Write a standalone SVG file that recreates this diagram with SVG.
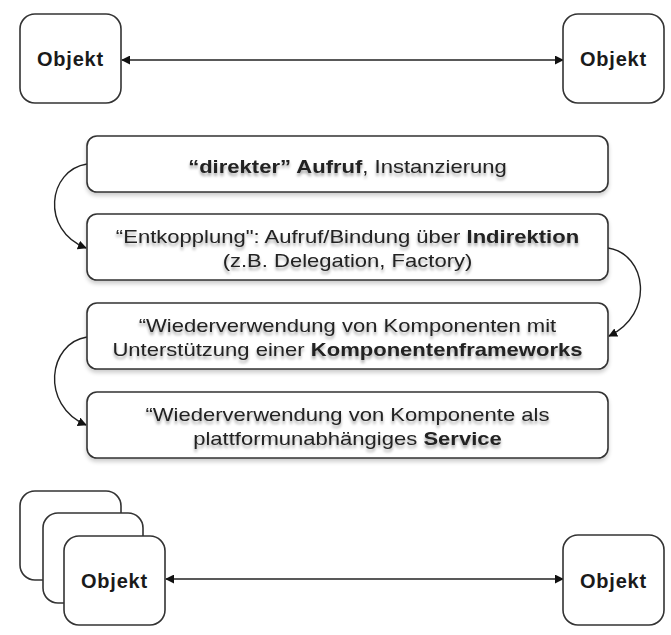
<svg xmlns="http://www.w3.org/2000/svg" width="671" height="635" viewBox="0 0 671 635">
<defs>
<style>
.obj{fill:#fff;stroke:#333;stroke-width:1.6}
.box{fill:#fff;stroke:#333;stroke-width:1.6}
.ot{font-family:"Liberation Sans",Arial,sans-serif;font-weight:bold;font-size:20px;fill:#1a1a1a;text-anchor:middle;letter-spacing:0.8px}
.bt{font-family:"Liberation Sans",Arial,sans-serif;font-size:19px;fill:#222;text-anchor:middle}
.b{font-weight:bold}
.con{fill:none;stroke:#222;stroke-width:1.4}
</style>
<marker id="ah" viewBox="0 0 10 10" refX="9" refY="5" markerWidth="9" markerHeight="9" markerUnits="userSpaceOnUse" orient="auto-start-reverse">
<path d="M0,0 L10,5 L0,10 z" fill="#111"/>
</marker>
<filter id="ts" x="-10%" y="-30%" width="120%" height="180%">
<feGaussianBlur in="SourceAlpha" stdDeviation="1.6"/>
<feOffset dy="3" result="b"/>
<feComponentTransfer in="b" result="s"><feFuncA type="linear" slope="0.35"/></feComponentTransfer>
<feMerge><feMergeNode in="s"/><feMergeNode in="SourceGraphic"/></feMerge>
</filter>
<filter id="bs" x="-5%" y="-20%" width="110%" height="150%">
<feGaussianBlur in="SourceAlpha" stdDeviation="2"/>
<feOffset dy="3" result="b"/>
<feComponentTransfer in="b" result="s"><feFuncA type="linear" slope="0.2"/></feComponentTransfer>
<feMerge><feMergeNode in="s"/><feMergeNode in="SourceGraphic"/></feMerge>
</filter>
</defs>
<rect width="671" height="635" fill="#fff"/>

<g id="connectors">
<line class="con" x1="122" y1="60" x2="563" y2="60" marker-start="url(#ah)" marker-end="url(#ah)"/>
<path class="con" d="M87,164 C48,170 40,230 86,248" marker-end="url(#ah)"/>
<path class="con" d="M608,248 C647,254 655,314 609,336" marker-end="url(#ah)"/>
<path class="con" d="M87,337 C48,343 40,405 86,425" marker-end="url(#ah)"/>
<line class="con" x1="166" y1="579" x2="563" y2="579" marker-start="url(#ah)" marker-end="url(#ah)"/>
</g>

<g id="obj-top-left">
<rect class="obj" x="20" y="14" width="101" height="89" rx="15"/>
<text class="ot" x="70.5" y="66">Objekt</text>
</g>
<g id="obj-top-right">
<rect class="obj" x="563" y="14" width="101" height="89" rx="15"/>
<text class="ot" x="613.5" y="66">Objekt</text>
</g>

<g id="step1">
<rect class="box" x="87" y="136" width="521" height="56" rx="10" filter="url(#bs)"/>
<g transform="matrix(1.16,0,0,1,-55.6,0)" filter="url(#ts)">
<text class="bt" x="347.5" y="173"><tspan class="b">“direkter” Aufruf</tspan>, Instanzierung</text>
</g>
</g>

<g id="step2">
<rect class="box" x="87" y="214" width="521" height="66" rx="10" filter="url(#bs)"/>
<g transform="matrix(1.16,0,0,1,-55.6,0)" filter="url(#ts)">
<text class="bt" x="347.5" y="243">“Entkopplung": Aufruf/Bindung über <tspan class="b">Indirektion</tspan></text>
<text class="bt" x="347.5" y="267">(z.B. Delegation, Factory)</text>
</g>
</g>

<g id="step3">
<rect class="box" x="87" y="303" width="521" height="66" rx="10" filter="url(#bs)"/>
<g transform="matrix(1.16,0,0,1,-55.6,0)" filter="url(#ts)">
<text class="bt" x="347.5" y="332">“Wiederverwendung von Komponenten mit</text>
<text class="bt" x="347.5" y="356">Unterstützung einer <tspan class="b">Komponentenframeworks</tspan></text>
</g>
</g>

<g id="step4">
<rect class="box" x="87" y="392" width="521" height="66" rx="10" filter="url(#bs)"/>
<g transform="matrix(1.16,0,0,1,-55.6,0)" filter="url(#ts)">
<text class="bt" x="347.5" y="421">“Wiederverwendung von Komponente als</text>
<text class="bt" x="347.5" y="445">plattformunabhängiges <tspan class="b">Service</tspan></text>
</g>
</g>

<g id="obj-stack">
<rect class="obj" x="20" y="491" width="101" height="89" rx="15"/>
<rect class="obj" x="43" y="513" width="100" height="90" rx="15"/>
<rect class="obj" x="64" y="536" width="101" height="89" rx="15"/>
<text class="ot" x="114.5" y="588">Objekt</text>
</g>
<g id="obj-bottom-right">
<rect class="obj" x="563" y="535" width="101" height="90" rx="15"/>
<text class="ot" x="613.5" y="588">Objekt</text>
</g>
</svg>
